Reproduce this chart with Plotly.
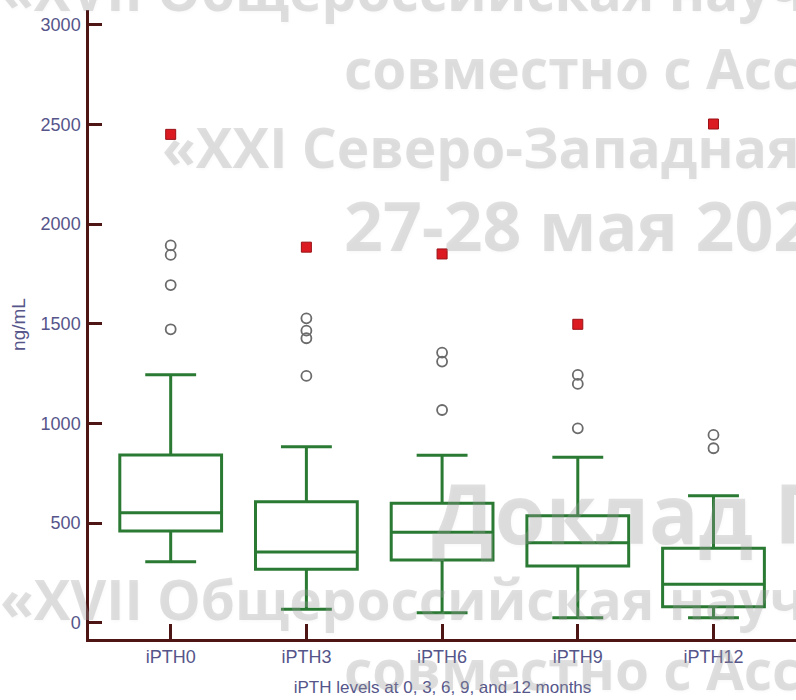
import plotly.graph_objects as go

# iPTH summary statistics (ng/mL) at 0, 3, 6, 9 and 12 months
categories = ["iPTH0", "iPTH3", "iPTH6", "iPTH9", "iPTH12"]
q1 = [460, 268, 315, 284, 80]
median = [552, 355, 454, 401, 193]
q3 = [841, 607, 599, 537, 373]
lower_whisker = [306, 67, 50, 25, 25]
upper_whisker = [1244, 883, 840, 830, 637]

# outside values (open circles) and far-out values (red squares)
outliers = {
    "iPTH0": [1472, 1694, 1845, 1893],
    "iPTH3": [1238, 1427, 1465, 1527],
    "iPTH6": [1067, 1310, 1355],
    "iPTH9": [975, 1198, 1243],
    "iPTH12": [875, 942],
}
far_out = [2450, 1884, 1850, 1497, 2502]

y_ticks = [0, 500, 1000, 1500, 2000, 2500, 3000]

W, H = 796, 700
M = dict(l=89, r=0, t=10, b=61)

BOX_GREEN = "#2a7a33"
AXIS_BROWN = "#4e1515"
LABEL_BLUE = "#55558a"

fig = go.Figure()

for i, cat in enumerate(categories):
    fig.add_trace(go.Box(
        x=[cat], q1=[q1[i]], median=[median[i]], q3=[q3[i]],
        lowerfence=[lower_whisker[i]], upperfence=[upper_whisker[i]],
        width=0.75, whiskerwidth=0.5, boxpoints=False,
        line=dict(color=BOX_GREEN, width=3),
        fillcolor="rgba(0,0,0,0)", showlegend=False,
    ))

out_x, out_y = [], []
for cat in categories:
    for v in outliers[cat]:
        out_x.append(cat)
        out_y.append(v)

fig.add_trace(go.Scatter(
    x=out_x, y=out_y, mode="markers", showlegend=False,
    marker=dict(symbol="circle-open", size=10, color="#6b6b6b",
                line=dict(width=1.8, color="#6b6b6b")),
))
fig.add_trace(go.Scatter(
    x=categories, y=far_out, mode="markers", showlegend=False,
    marker=dict(symbol="square", size=10, color="#dc1a22",
                line=dict(width=1, color="#9a1116")),
))

axis_font = dict(family="Liberation Sans, Arial, sans-serif", size=18, color=LABEL_BLUE)

fig.update_layout(
    width=W, height=H, margin=M,
    paper_bgcolor="white", plot_bgcolor="white",
    boxmode="overlay",
    xaxis=dict(
        type="category", categoryorder="array", categoryarray=categories,
        range=[-0.602, 4.608], showgrid=False, zeroline=False,
        showline=True, linecolor=AXIS_BROWN, linewidth=2.5,
        ticks="inside", ticklen=15, tickwidth=3, tickcolor=AXIS_BROWN,
        tickfont=axis_font, ticklabelstandoff=0,
        title=dict(text="iPTH levels at 0, 3, 6, 9, and 12 months",
                   font=dict(family="Liberation Sans, Arial, sans-serif", size=17, color=LABEL_BLUE),
                   standoff=15),
    ),
    yaxis=dict(
        range=[-82, 3074], tickvals=y_ticks, showgrid=False, zeroline=False,
        showline=True, linecolor=AXIS_BROWN, linewidth=2.5,
        ticks="inside", ticklen=13, tickwidth=3, tickcolor=AXIS_BROWN,
        tickfont=axis_font, ticklabelstandoff=2,
        title=dict(text="ng/mL",
                   font=dict(family="Liberation Sans, Arial, sans-serif", size=19, color=LABEL_BLUE),
                   standoff=10),
    ),
)

# conference watermark lettering laid over the chart
plot_w = W - M["l"] - M["r"]
plot_h = H - M["t"] - M["b"]


def px_to_paper(px, py):
    return (px - M["l"]) / plot_w, 1 - (py - M["t"]) / plot_h


watermark = [
    ("«XVII Общероссийская научно-практическая", -2, -10, 55),
    ("совместно с Ассоциацией", 342, 68, 55),
    ("«XXI Северо-Западная", 160, 146, 55),
    ("27-28 мая 2025", 342, 224, 68),
    ("Доклад П", 430, 512, 82),
    ("«XVII Общероссийская научно-практическая", -2, 598, 55),
    ("совместно с Ассоциацией", 342, 668, 55),
]
for text, px, py, size in watermark:
    xp, yp = px_to_paper(px, py)
    fig.add_annotation(
        text=text, x=xp, y=yp, xref="paper", yref="paper",
        xanchor="left", yanchor="middle", showarrow=False,
        font=dict(family="Open Sans", size=size, weight="bold",
                  color="rgba(160,160,160,0.32)",
                  shadow="1px 2px 3px rgba(0,0,0,0.08)"),
    )

fig.write_html("out.html")
